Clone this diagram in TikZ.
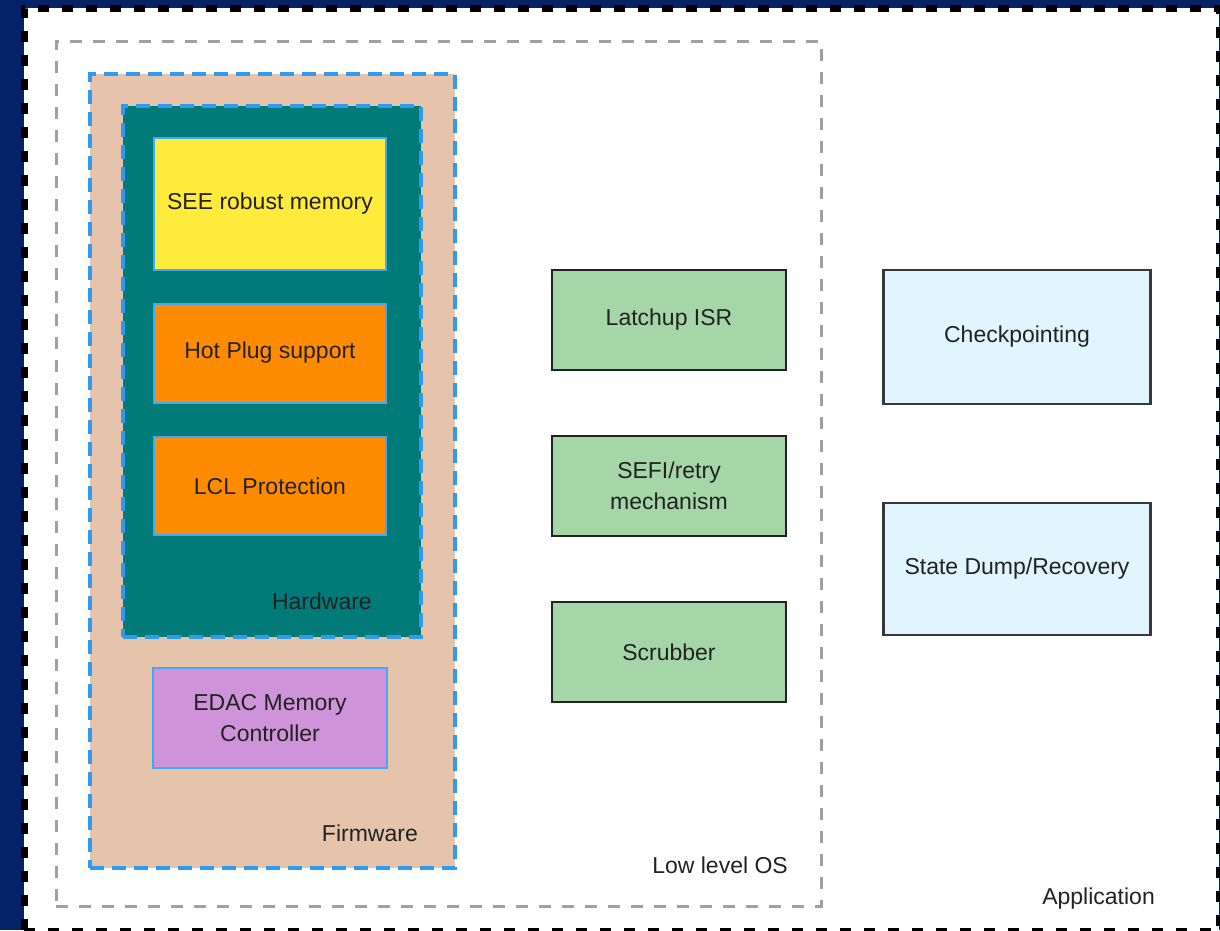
\documentclass[tikz,border=0pt]{standalone}
\usepackage{fontspec}
\setmainfont{Liberation Sans}
\definecolor{navy}{RGB}{4,34,104}
\definecolor{grayd}{RGB}{160,160,160}
\definecolor{blued}{RGB}{46,155,240}
\definecolor{blueline}{RGB}{70,168,245}
\definecolor{peach}{RGB}{230,196,172}
\definecolor{tealhw}{RGB}{0,123,122}
\definecolor{yel}{RGB}{255,235,59}
\definecolor{org}{RGB}{255,140,0}
\definecolor{purp}{RGB}{206,147,216}
\definecolor{grn}{RGB}{165,214,167}
\definecolor{lblue}{RGB}{225,245,254}
\definecolor{txt}{RGB}{34,34,34}
\begin{document}
\begin{tikzpicture}[x=1pt,y=-1pt,
  every node/.style={font=\fontsize{23}{31}\selectfont, text=txt, align=center, inner sep=0pt},
  hwbox/.style={draw=blueline, line width=2pt, minimum width=232pt, rectangle},
  osbox/.style={draw=txt, line width=2.5pt, fill=grn, minimum width=234pt, minimum height=100pt, rectangle},
  appbox/.style={draw=txt!90, line width=2.5pt, fill=lblue, minimum width=267pt, rectangle},
  grplabel/.style={anchor=east}
]
\useasboundingbox (0,0) rectangle (1220,930);
\fill[navy] (0,0) rectangle (1220,930);
% Application frame
\node[draw=black, fill=white, line width=6.5pt, dash pattern=on 11pt off 13pt,
  minimum width=1195pt, minimum height=923pt, anchor=north west] (app) at (21,5) {};
% Low level OS frame
\node[draw=grayd, line width=2.5pt, dash pattern=on 12pt off 11pt,
  minimum width=765pt, minimum height=865pt, anchor=north west] (os) at (55,40) {};
% Firmware frame
\node[draw=blued, fill=peach, line width=3.5pt, dash pattern=on 14pt off 8pt,
  minimum width=365pt, minimum height=794pt, anchor=north west] (fw) at (88,72) {};
% Hardware frame
\node[draw=blued, fill=tealhw, line width=3.5pt, dash pattern=on 14pt off 8pt,
  minimum width=298pt, minimum height=531pt, anchor=north west] (hw) at (121,104) {};
% Hardware boxes
\node[hwbox, fill=yel, minimum height=132pt] (see) at (270,204) {SEE robust memory};
\node[hwbox, fill=org, minimum height=99pt] (hot) at (270,353) {Hot Plug support};
\node[hwbox, fill=org, minimum height=98pt] (lcl) at (270,486) {LCL Protection};
\node[grplabel] (hwl) at (372,601) {Hardware};
% Firmware box
\node[hwbox, fill=purp, minimum width=234pt, minimum height=100pt] (edac) at (270,718) {EDAC Memory\\Controller};
\node[grplabel] (fwl) at (418,833) {Firmware};
% Low level OS boxes
\node[osbox] (latch) at (669,320) {Latchup ISR};
\node[osbox] (sefi) at (669,486) {SEFI/retry\\mechanism};
\node[osbox] (scrub) at (669,652) {Scrubber};
\node[grplabel] (osl) at (788,865) {Low level OS};
% Application boxes
\node[appbox, minimum height=134pt] (chk) at (1017,337) {Checkpointing};
\node[appbox, minimum height=132pt] (dump) at (1017,569) {State Dump/Recovery};
\node[grplabel] (appl) at (1155,899) {Application};
\end{tikzpicture}
\end{document}
